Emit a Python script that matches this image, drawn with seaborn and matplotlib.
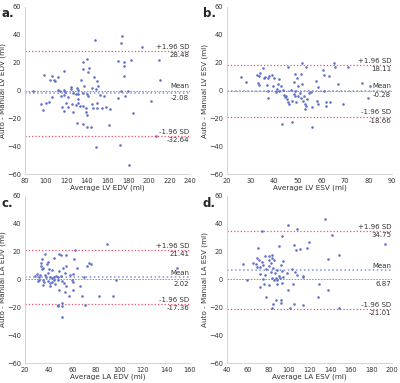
import matplotlib
matplotlib.use("Agg")
import matplotlib.pyplot as plt
import seaborn as sns
import pandas as pd

# Panel a: LV EDV
a_x = [148.2, 174.1, 172.5, 193.0, 209.6, 210.6, 182.4, 169.9, 175.7, 176.3, 175.7, 139.5, 136.3, 136.3,
       142.4, 140.8, 118.1, 97.9, 105.6, 104.3, 107.8, 112.0, 133.8, 147.2, 150.1, 87.7, 112.0, 113.3,
       117.4, 124.8, 124.2, 129.9, 130.9, 136.6, 145.3, 148.5, 150.4, 136.0, 139.8, 141.4, 131.2, 129.3,
       117.8, 121.6, 105.9, 103.0, 100.5, 95.4, 97.0, 116.2, 120.0, 117.8, 121.9, 125.8, 126.4, 129.6,
       131.2, 131.2, 133.1, 136.0, 138.6, 139.2, 139.5, 145.3, 145.6, 149.8, 150.1, 154.2, 158.7, 162.2,
       152.6, 156.5, 169.6, 177.3, 179.8, 172.8, 184.6, 201.9, 130.6, 136.0, 140.2, 143.4, 161.6, 207.0,
       148.5, 171.8, 181.1, 126.1, 114.9, 118.4, 108.8]
a_y = [35.9, 39.3, 34.0, 31.0, 21.7, 7.4, 22.1, 21.2, 20.2, 17.9, 10.5, 22.4, 20.5, 15.7,
       15.9, 13.6, 14.3, 11.0, 10.7, 7.6, 7.4, 9.5, 7.4, 9.8, 6.7, 0.0, 0.5, 0.0,
       0.7, 2.6, 1.2, 1.7, 0.5, 3.1, 1.7, 1.2, 3.1, -1.7, -2.6, -4.0, -2.6, -2.4,
       -2.9, -4.8, -5.0, -8.6, -9.0, -10.0, -14.0, -11.7, -9.0, -14.8, -11.9, -10.0, -15.5, -10.7,
       -6.4, -9.3, -11.0, -11.2, -12.4, -15.2, -17.4, -9.5, -12.6, -9.0, -12.4, -12.9, -11.9, -13.1,
       -3.1, -3.8, -5.7, -3.8, -0.5, -0.2, -16.0, -7.4, -23.1, -24.3, -26.0, -26.2, -24.8, -32.6,
       -40.2, -38.8, -53.3, -1.7, -4.0, -1.2, 6.7]

# Panel b: LV ESV
b_x = [25.8, 28.0, 32.8, 33.4, 34.0, 33.2, 33.5, 35.1, 35.8, 36.2, 37.2, 36.8, 37.7, 37.5, 39.2,
       39.7, 37.4, 39.4, 41.8, 42.2, 42.8, 43.7, 41.3, 40.7, 44.0, 44.4, 45.1, 46.0, 45.4, 45.7,
       46.4, 48.3, 49.0, 49.6, 51.3, 51.7, 51.7, 50.0, 48.3, 48.7, 49.0, 50.0, 47.7, 49.4, 51.0,
       51.4, 52.6, 52.2, 53.2, 53.6, 52.9, 54.0, 54.9, 57.9, 58.5, 60.6, 61.2, 63.2, 61.2, 58.0,
       58.7, 61.8, 61.9, 63.8, 65.5, 65.8, 66.9, 69.2, 71.4, 77.2, 79.6, 80.8, 43.4, 47.5, 56.0,
       56.0, 53.4, 42.0, 55.5, 47.0]
b_y = [9.5, 6.4, 11.4, 10.7, 12.6, 5.7, 3.6, 15.9, 9.0, 9.8, 8.8, 3.6, 10.5, -0.7, 11.2,
       9.0, -5.2, 3.3, 5.0, 7.9, 2.9, 0.7, 1.4, -1.2, -2.9, -5.0, -3.8, 16.7, -6.4, -8.1,
       -10.0, 6.0, 11.9, 9.0, 11.7, 19.5, 5.0, 2.9, -2.4, -3.6, 0.0, -3.6, -7.6, -8.1, -1.9,
       -5.2, -4.0, -7.4, -10.0, -11.4, -13.6, -6.4, -1.9, 6.7, 2.6, 14.8, 11.0, 10.5, -0.5, -7.6,
       -9.8, -8.3, -11.2, -8.1, 19.5, 17.1, 5.0, -9.5, 17.1, 5.2, -5.7, 3.3, -23.8, -22.4, -26.2,
       -11.9, 17.1, -0.3, -1.0, 0.4]

# Panel c: LA EDV
c_x = [89.1, 62.5, 36.8, 48.9, 50.6, 54.4, 44.6, 34.5, 61.3, 39.7, 38.2, 33.3, 33.6, 73.8, 75.8,
       72.6, 54.7, 35.3, 34.2, 40.2, 43.1, 48.9, 51.8, 64.2, 54.1, 60.8, 58.2, 39.7, 29.8, 28.7,
       31.3, 32.4, 36.5, 37.9, 41.1, 44.3, 46.3, 48.0, 50.1, 42.5, 44.6, 47.7, 51.2, 35.0, 35.9,
       31.6, 31.0, 39.1, 41.4, 43.1, 45.4, 53.2, 55.0, 60.5, 59.6, 70.0, 97.2, 35.3, 41.4, 48.9,
       66.8, 60.2, 53.5, 57.0, 68.0, 83.0, 94.6, 70.9, 47.5, 48.0, 50.9, 51.2, 51.5, 148.9]
c_y = [25.5, 21.2, 18.3, 18.1, 17.9, 17.6, 15.7, 14.8, 14.8, 12.6, 11.4, 11.7, 9.8, 11.9, 11.4,
       9.8, 9.5, 8.1, 7.4, 7.4, 6.7, 6.2, 7.9, 8.1, 4.5, 4.0, 3.1, 4.3, 4.0, 2.6,
       1.9, 3.1, 3.1, 1.9, 2.1, 2.1, 2.6, 1.9, 2.4, 0.7, -0.7, -0.7, -1.4, -0.2, -2.1,
       -0.2, -1.4, -1.4, -2.6, -1.7, -3.1, -2.6, -4.5, -2.1, -0.2, 1.9, -0.5, -4.0, -4.5, -7.4,
       -4.8, -7.6, -8.8, -11.7, -12.1, -12.1, -12.1, -18.3, -18.1, -18.8, -16.9, -18.8, -26.7, 8.3]

# Panel d: LA ESV
d_x = [135.1, 99.0, 107.5, 73.8, 141.3, 93.4, 119.3, 192.8, 90.2, 105.3, 117.7, 110.5, 106.9, 69.8,
       148.2, 76.4, 80.7, 83.9, 83.3, 68.9, 71.1, 74.1, 80.3, 85.6, 94.1, 137.4, 55.1, 64.9, 67.9,
       69.2, 74.8, 82.3, 81.0, 91.8, 84.9, 78.0, 88.8, 71.5, 72.1, 76.7, 82.3, 86.6, 93.1, 98.0,
       103.0, 105.6, 107.9, 113.8, 113.8, 90.8, 91.1, 93.8, 83.3, 87.9, 88.8, 74.4, 85.2, 59.0,
       88.2, 76.0, 80.9, 72.1, 92.8, 103.6, 128.9, 98.7, 138.1, 77.7, 127.9, 87.5, 91.8, 92.5,
       84.6, 105.3, 114.1, 101.3, 83.6, 148.2]
d_y = [43.1, 39.0, 36.4, 34.8, 31.9, 31.0, 26.7, 25.5, 24.0, 24.5, 22.9, 22.1, 21.4, 22.4,
       17.4, 16.7, 17.1, 17.9, 15.7, 15.5, 14.0, 12.4, 14.0, 14.0, 13.6, 14.8, 11.0, 11.7, 11.0,
       9.0, 10.2, 11.9, 9.5, 10.2, 8.1, 7.6, 6.9, 8.6, 3.6, 3.1, 5.2, 5.0, 6.2, 4.8,
       7.4, 5.5, 2.9, 2.6, 1.9, 2.4, 1.4, 1.9, 1.4, 0.7, -0.5, 0.0, -0.7, -0.5,
       -2.9, -3.1, -3.8, -5.2, -2.6, -2.9, -3.6, -7.6, -7.6, -12.6, -12.4, -14.8, -14.5, -16.9,
       -17.6, -17.6, -18.3, -20.7, -20.7, -20.7]

panels = ["a.", "b.", "c.", "d."]
xs = [a_x, b_x, c_x, d_x]
ys = [a_y, b_y, c_y, d_y]
xlabels = ["Average LV EDV (ml)", "Average LV ESV (ml)", "Average LA EDV (ml)", "Average LA ESV (ml)"]
ylabels = ["Auto - Manual LV EDV (ml)", "Auto - Manual LV ESV (ml)",
           "Auto - Manual LA EDV (ml)", "Auto - Manual LA ESV (ml)"]
means = [-2.08, -0.28, 2.02, 6.87]
upper = [28.48, 18.11, 21.41, 34.75]
lower = [-32.64, -18.66, -17.36, -21.01]
xlims = [(80, 240), (20, 90), (20, 160), (40, 200)]
xsteps = [20, 10, 20, 20]

sns.set_style("white")
plt.rcParams["font.family"] = ["DejaVu Sans"]

fig, axes = plt.subplots(2, 2, figsize=(4.0, 3.83), dpi=100)
plt.subplots_adjust(left=0.063, right=0.98, top=0.982, bottom=0.052, wspace=0.225, hspace=0.13)

# panel letters, in figure pixels
letter_pos = [(1, 7), (203, 7), (1, 197), (203, 197)]

for i, ax in enumerate(axes.flat):
    df = pd.DataFrame({"x": xs[i], "y": ys[i]})
    sns.scatterplot(data=df, x="x", y="y", ax=ax, s=3.5, color="#6272c8", linewidth=0, zorder=3)
    ax.axhline(0, color="#888888", linestyle="--", linewidth=0.6, dashes=(2, 1.5))
    ax.axhline(means[i], color="#8095dd", linestyle=":", linewidth=1.1)
    ax.axhline(upper[i], color="#e8506e", linestyle=":", linewidth=0.9)
    ax.axhline(lower[i], color="#e8506e", linestyle=":", linewidth=0.9)

    ax.set_xlim(*xlims[i])
    ax.set_ylim(-60, 60)
    ax.set_xticks(range(xlims[i][0], xlims[i][1] + 1, xsteps[i]))
    ax.set_yticks(range(-60, 61, 20))
    ax.set_xlabel(xlabels[i], fontsize=5.2, color="#333333", labelpad=0.5)
    ax.set_ylabel(ylabels[i], fontsize=5.2, color="#333333", labelpad=1)
    ax.tick_params(labelsize=4.8, length=2, width=0.5, colors="#bbbbbb", labelcolor="#333333", pad=1)
    sns.despine(ax=ax)
    for s in ["left", "bottom"]:
        ax.spines[s].set_color("#cccccc")
        ax.spines[s].set_linewidth(0.6)

    # annotations at right edge
    hi = max(means[i], 0)
    lo = min(means[i], 0)
    kw = dict(transform=ax.get_yaxis_transform(), ha="right", fontsize=5, color="#333333")
    ax.text(0.995, upper[i] + 0.8, "+1.96 SD", va="bottom", **kw)
    ax.text(0.995, upper[i] - 0.8, f"{upper[i]:.2f}", va="top", **kw)
    ax.text(0.995, hi + 0.8, "Mean", va="bottom", **kw)
    ax.text(0.995, lo - 0.8, f"{means[i]:.2f}", va="top", **kw)
    ax.text(0.995, lower[i] + 0.8, "-1.96 SD", va="bottom", **kw)
    ax.text(0.995, lower[i] - 0.8, f"{lower[i]:.2f}", va="top", **kw)

    lx, ly = letter_pos[i]
    fig.text(lx / 400, 1 - ly / 383, panels[i], fontsize=8.5, fontweight="bold", va="top", ha="left")

plt.savefig("out.png", dpi=100)
plt.close()
